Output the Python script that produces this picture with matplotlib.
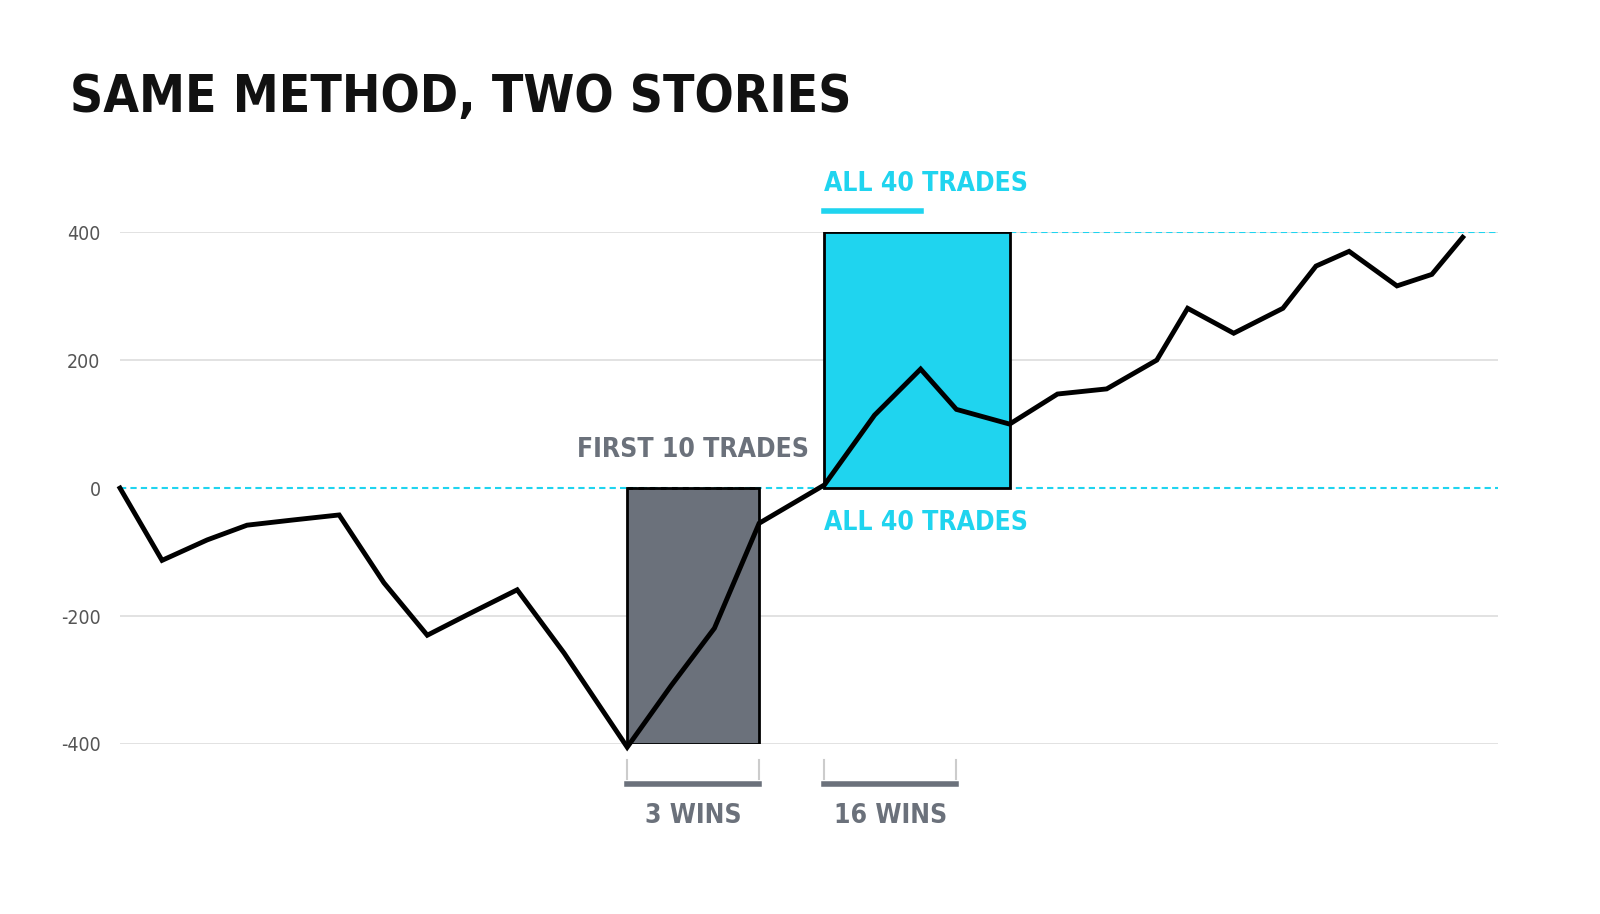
import matplotlib.pyplot as plt

# cumulative P&L by trade (x in trade-position units)
trade_x = [0, 0.94, 1.95, 2.84, 3.85, 4.9, 5.9, 6.87, 7.85, 8.88, 9.93, 11.34, 12.32,
           13.29, 14.29, 15.75, 16.87, 17.9, 18.7, 19.89, 20.96, 22.06, 23.18, 23.87,
           24.9, 26.0, 26.74, 27.48, 28.55, 29.33, 30.02]
pnl = [0, -113, -81, -58, -50, -42, -148, -230, -195, -159, -258, -405, -309,
       -219, -55, 5, 114, 186, 123, 100, 147, 155, 200, 281, 242, 281, 347,
       370, 316, 334, 392]
yticks = [-400, -200, 0, 200, 400]
first_box = (11.34, 14.29)   # first 10 trades window
all_box = (15.75, 19.89)     # all 40 trades window
wins_first, wins_all = "3 WINS", "16 WINS"

GRAY = "#6b717b"
CYAN = "#1fd4ef"
COND = dict(family="DejaVu Sans", stretch="condensed")

fig = plt.figure(figsize=(16, 9.14), dpi=100)
ax = fig.add_axes([0.075, 0.186, 0.861, 0.56])
ax.set_xlim(0, 30.8)
ax.set_ylim(-400, 400)
for s in ax.spines.values():
    s.set_visible(False)
ax.set_xticks([])
ax.set_yticks(yticks)
ax.set_yticklabels([str(v) for v in yticks], fontsize=14, color="#555555", **COND)
ax.tick_params(axis="y", length=0, pad=14)
for v in yticks:
    if v != 0:
        ax.axhline(v, color="#dddddd", lw=1.2, zorder=0)

ax.axhline(0, color=CYAN, lw=1.5, ls=(0, (3, 2)), zorder=1)
ax.plot([all_box[1], 30.8], [400, 400], color=CYAN, lw=1.5, ls=(0, (3, 2)), zorder=1)

ax.add_patch(plt.Rectangle((first_box[0], -400), first_box[1] - first_box[0], 400,
                           facecolor=GRAY, edgecolor="black", lw=2, zorder=2))
ax.plot(first_box, [0, 0], color="black", lw=2, ls=(0, (2, 2)), zorder=3)
ax.add_patch(plt.Rectangle((all_box[0], 0), all_box[1] - all_box[0], 400,
                           facecolor=CYAN, edgecolor="black", lw=2, zorder=2))

ax.plot(trade_x, pnl, color="black", lw=3.5, zorder=4, clip_on=False,
        solid_joinstyle="miter")

ax.text(sum(first_box) / 2, 60, "FIRST 10 TRADES", ha="center", va="center",
        fontsize=19, fontweight="bold", color=GRAY, **COND)
ax.text(all_box[0], -55, "ALL 40 TRADES", ha="left", va="center",
        fontsize=19, fontweight="bold", color=CYAN, **COND)
ax.text(all_box[0], 475, "ALL 40 TRADES", ha="left", va="center",
        fontsize=19, fontweight="bold", color=CYAN, clip_on=False, **COND)
ax.plot([all_box[0], 17.9], [433, 433], color=CYAN, lw=4, clip_on=False)

# win brackets under the axis
for (x0, x1), lab in [(first_box, wins_first), ((all_box[0], 18.7), wins_all)]:
    ax.plot([x0, x0], [-425, -455], color="#cccccc", lw=1.5, clip_on=False)
    ax.plot([x1, x1], [-425, -455], color="#cccccc", lw=1.5, clip_on=False)
    ax.plot([x0, x1], [-462, -462], color=GRAY, lw=4, clip_on=False)
    ax.text((x0 + x1) / 2, -512, lab, ha="center", va="center", fontsize=19,
            fontweight="bold", color=GRAY, clip_on=False, **COND)

fig.text(0.044, 0.893, "SAME METHOD, TWO STORIES", ha="left", va="center",
         fontsize=37, fontweight="bold", color="#111111", **COND)

fig.savefig("out.png", dpi=100, facecolor="white")
